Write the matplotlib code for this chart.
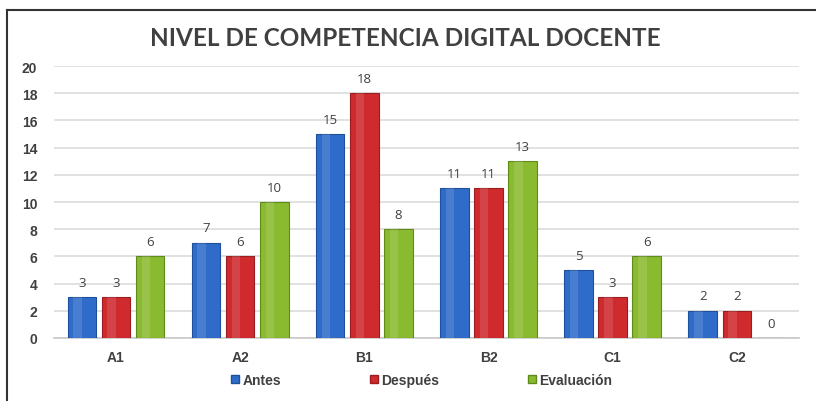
import matplotlib.pyplot as plt
import numpy as np
from matplotlib.lines import Line2D

# Niveles y resultados
niveles = ['A1', 'A2', 'B1', 'B2', 'C1', 'C2']
antes = [3, 7, 15, 11, 5, 2]
despues = [3, 6, 18, 11, 3, 2]
evaluacion = [6, 10, 8, 13, 6, 0]
series_names = ['Antes', 'Después', 'Evaluación']

colors = ['#2f6cc9', '#cf2a2e', '#8aba2f']
edges = ['#1d4f9a', '#9a1d20', '#5f8a1c']
text_gray = '#404040'

fig = plt.figure(figsize=(8.16, 4.02), dpi=100)
ax = fig.add_axes([0.066, 0.157, 0.913, 0.676])

x = np.arange(len(niveles))
width = 0.23
offset = 0.275

for i, (vals, c, ec) in enumerate(zip([antes, despues, evaluacion], colors, edges)):
    pos = x + (i - 1) * offset
    bars = ax.bar(pos, vals, width=width, color=c, edgecolor=ec, linewidth=0.8, zorder=3)
    # simple highlight to mimic the 3D look
    ax.bar(pos - width * 0.15, vals, width=width * 0.3, color='white', alpha=0.12,
           linewidth=0, zorder=4)
    for b, v in zip(bars, vals):
        ax.annotate(str(v), (b.get_x() + b.get_width() / 2, v), xytext=(0, 6),
                    textcoords='offset points', ha='center', va='bottom',
                    fontsize=9.5, color=text_gray, family='Open Sans')

ax.set_xlim(-0.5, len(niveles) - 0.5)
ax.set_ylim(0, 20)
ax.set_yticks(range(0, 21, 2))
ax.set_xticks(x)
ax.set_xticklabels(niveles)
ax.grid(axis='y', color='#dcdcdc', linewidth=1.2, zorder=0)
for s in ['top', 'right', 'left']:
    ax.spines[s].set_visible(False)
ax.spines['bottom'].set_color('#c8c8c8')
ax.spines['bottom'].set_linewidth(1.2)
ax.tick_params(axis='both', length=0, colors=text_gray)
ax.tick_params(axis='y', pad=12)
ax.tick_params(axis='x', pad=9)
for lab in ax.get_xticklabels() + ax.get_yticklabels():
    lab.set_fontweight('bold')
    lab.set_fontsize(10)
    lab.set_family('Liberation Sans')

fig.text(0.497, 0.905, 'NIVEL DE COMPETENCIA DIGITAL DOCENTE', ha='center', va='center',
         fontsize=17.5, color=text_gray, family='Lato', fontweight='bold')

handles = [Line2D([0], [0], marker='s', linestyle='', markersize=6, markerfacecolor=c,
                  markeredgecolor=ec) for c, ec in zip(colors, edges)]
leg = fig.legend(handles, series_names, loc='center', bbox_to_anchor=(0.515, 0.052),
                 ncol=3, frameon=False, handletextpad=0.0, columnspacing=6.2,
                 handlelength=1.0,
                 prop={'family': 'Liberation Sans', 'weight': 'bold', 'size': 10})
for t in leg.get_texts():
    t.set_color(text_gray)

# outer frame (left and top edges visible)
fig.add_artist(Line2D([0.009, 0.009], [0, 0.973], color='#333333', linewidth=1.5))
fig.add_artist(Line2D([0.009, 1.0], [0.973, 0.973], color='#333333', linewidth=1.5))

fig.savefig('out.png', dpi=100, facecolor='white')
